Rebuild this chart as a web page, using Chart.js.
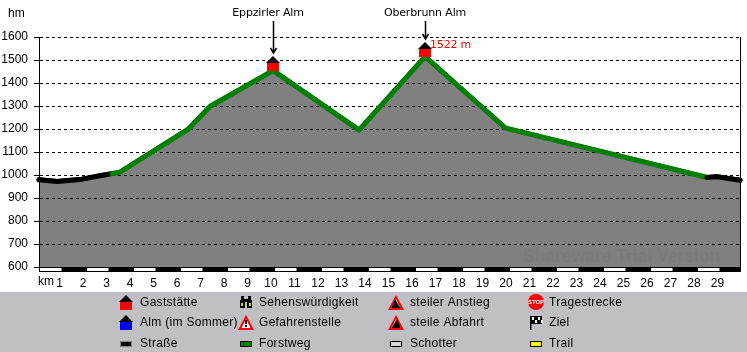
<!DOCTYPE html>
<html>
<head>
<meta charset="utf-8">
<title>Höhenprofil</title>
<script src="https://cdn.jsdelivr.net/npm/chart.js@4/dist/chart.umd.min.js"></script>
<style>
	html, body { margin: 0; padding: 0; background: #fff; overflow: hidden; }
	canvas { display: block; }
</style>
</head>
<body>
<canvas id="chart" width="747" height="352"></canvas>
<script>
const kmPoints = [0, 0.77, 1.74, 2.6, 3.11, 3.45, 6.34, 7.28, 9.96, 13.62, 16.43, 19.85, 28.43, 28.85, 29.83];
const heights = [979, 972, 980, 997, 1006, 1012, 1198, 1298, 1454, 1195, 1515, 1204, 989, 992, 977];
// surface of the segment that starts at each point
const surfaces = ['road', 'road', 'road', 'road', 'forest', 'forest', 'forest', 'forest', 'forest', 'forest', 'forest', 'forest', 'road', 'road'];
const surfaceColors = { road: '#000000', forest: '#008000' };

const huts = [
	{ name: 'Eppzirler Alm', index: 8, shift: -5 },
	{ name: 'Oberbrunn Alm', index: 10, shift: 0 }
];
const peakLabel = '1522 m';

const legendRows = [
	[['Gaststätte', 'hutRed'], ['Sehenswürdigkeit', 'binoculars'], ['steiler Anstieg', 'up'], ['Tragestrecke', 'stop']],
	[['Alm (im Sommer)', 'hutBlue'], ['Gefahrenstelle', 'danger'], ['steile Abfahrt', 'down'], ['Ziel', 'flag']],
	[['Straße', 'road'], ['Forstweg', 'forest'], ['Schotter', 'gravel'], ['Trail', 'trail']]
];

const textFont = '12px "Liberation Sans"';
const noteFont = '11px "DejaVu Sans"';

function hut(ctx, cx, top, color) {
	ctx.fillStyle = '#000';
	ctx.beginPath();
	ctx.moveTo(cx, top);
	ctx.lineTo(cx + 7, top + 7);
	ctx.lineTo(cx - 7, top + 7);
	ctx.closePath();
	ctx.fill();
	ctx.fillStyle = color;
	ctx.fillRect(cx - 6, top + 7, 12, 8);
}

function arrow(ctx, x, y0, y1) {
	ctx.strokeStyle = '#000';
	ctx.lineWidth = 1.5;
	ctx.beginPath();
	ctx.moveTo(x, y0);
	ctx.lineTo(x, y1);
	ctx.moveTo(x - 3, y1 - 5);
	ctx.lineTo(x, y1);
	ctx.lineTo(x + 3, y1 - 5);
	ctx.stroke();
}

function warnTriangle(ctx, cx, top) {
	ctx.fillStyle = '#f00';
	ctx.beginPath();
	ctx.moveTo(cx, top);
	ctx.lineTo(cx + 8, top + 15);
	ctx.lineTo(cx - 8, top + 15);
	ctx.closePath();
	ctx.fill();
	ctx.fillStyle = '#fff';
	ctx.beginPath();
	ctx.moveTo(cx, top + 4);
	ctx.lineTo(cx + 4.5, top + 13);
	ctx.lineTo(cx - 4.5, top + 13);
	ctx.closePath();
	ctx.fill();
}

function swatch(ctx, cx, y, fill, edge) {
	ctx.fillStyle = edge;
	ctx.fillRect(cx - 6, y - 3, 12, 6);
	ctx.fillStyle = fill;
	ctx.fillRect(cx - 5, y - 2, 10, 4);
}

function drawIcon(ctx, kind, cx, y) {
	if (kind === 'hutRed') hut(ctx, cx, y - 7, '#f00');
	if (kind === 'hutBlue') hut(ctx, cx, y - 7, '#00f');
	if (kind === 'road') swatch(ctx, cx, y + 1, '#000', '#808080');
	if (kind === 'forest') swatch(ctx, cx, y + 1, '#008000', '#000');
	if (kind === 'gravel') swatch(ctx, cx, y + 1, '#d8d8d8', '#000');
	if (kind === 'trail') swatch(ctx, cx, y + 1, '#ffff00', '#000');
	if (kind === 'binoculars') {
		ctx.fillStyle = '#000';
		ctx.fillRect(cx - 6, y - 2, 5, 8);
		ctx.fillRect(cx + 1, y - 2, 5, 8);
		ctx.fillRect(cx - 5, y - 6, 3, 5);
		ctx.fillRect(cx + 2, y - 6, 3, 5);
		ctx.fillRect(cx - 2, y - 3, 4, 3);
		ctx.fillStyle = '#e0d000';
		ctx.fillRect(cx - 5, y + 1, 2, 3);
		ctx.fillRect(cx + 3, y + 1, 2, 3);
	}
	if (kind === 'danger') {
		warnTriangle(ctx, cx, y - 7);
		ctx.fillStyle = '#000';
		ctx.fillRect(cx - 1, y - 2, 2, 4);
		ctx.fillRect(cx - 1, y + 3, 2, 2);
	}
	if (kind === 'up' || kind === 'down') {
		warnTriangle(ctx, cx, y - 7);
		ctx.fillStyle = '#000';
		ctx.beginPath();
		if (kind === 'up') {
			ctx.moveTo(cx - 4.5, y + 6);
			ctx.lineTo(cx + 4.5, y + 6);
			ctx.lineTo(cx - 1, y - 3);
		} else {
			ctx.moveTo(cx - 4.5, y + 6);
			ctx.lineTo(cx + 4.5, y + 6);
			ctx.lineTo(cx + 1, y - 3);
		}
		ctx.closePath();
		ctx.fill();
	}
	if (kind === 'stop') {
		ctx.fillStyle = '#f00';
		ctx.beginPath();
		ctx.arc(cx, y, 8, 0, Math.PI * 2);
		ctx.fill();
		ctx.fillStyle = '#fff';
		ctx.font = 'bold 6px "Liberation Sans"';
		ctx.textAlign = 'center';
		ctx.textBaseline = 'middle';
		ctx.fillText('STOP', cx, y);
	}
	if (kind === 'flag') {
		ctx.fillStyle = '#000';
		ctx.fillRect(cx - 6, y - 6, 1.5, 14);
		ctx.fillRect(cx - 5, y - 6, 11, 8);
		ctx.fillStyle = '#fff';
		for (let i = 0; i < 4; i++) {
			ctx.fillRect(cx - 4 + i * 3, y - 5 + (i % 2) * 3, 2, 3);
		}
	}
}

const decorPlugin = {
	id: 'decor',
	beforeDraw(chart) {
		const ctx = chart.ctx;
		ctx.save();
		ctx.fillStyle = '#c0c0c4';
		ctx.fillRect(0, 292, 747, 60);
		ctx.restore();
	},
	afterDraw(chart) {
		const ctx = chart.ctx;
		const area = chart.chartArea;
		const xs = chart.scales.x;
		const ys = chart.scales.y;

		// the grid sits above the fill but under the route line
		for (let i = 1; i < chart.data.datasets.length; i++) {
			chart.getDatasetMeta(i).dataset.draw(ctx, area);
		}

		ctx.save();

		// km strip under the plot
		ctx.fillStyle = '#000';
		ctx.fillRect(area.left, area.bottom, area.right - area.left + 1, 5);
		ctx.fillStyle = '#fff';
		for (let km = 0; km < 29; km += 2) {
			const a = xs.getPixelForValue(km) + 1;
			const b = xs.getPixelForValue(km + 1) - 1;
			ctx.fillRect(a, area.bottom + 1, b - a, 3);
		}
		ctx.fillStyle = '#000';
		ctx.fillRect(area.right, area.top, 1, area.bottom - area.top);

		// watermark
		ctx.fillStyle = '#7c7c7c';
		ctx.font = 'bold 17.5px "Liberation Sans"';
		ctx.textAlign = 'left';
		ctx.textBaseline = 'middle';
		ctx.fillText('Shareware Trial Version', 523, 257);

		ctx.fillStyle = '#000';
		ctx.font = textFont;
		ctx.textAlign = 'left';
		ctx.fillText('hm', 8, 14);
		ctx.fillText('km', 38, 282);

		huts.forEach(function (h) {
			const x = Math.round(xs.getPixelForValue(kmPoints[h.index]));
			const y = ys.getPixelForValue(heights[h.index]);
			const top = Math.round(y) - 15;
			ctx.fillStyle = '#000';
			ctx.font = noteFont;
			ctx.letterSpacing = '-0.15px';
			ctx.textAlign = 'center';
			ctx.textBaseline = 'middle';
			ctx.fillText(h.name, x + h.shift, 13);
			ctx.letterSpacing = '0px';
			arrow(ctx, x + 0.5, 21, top - 3);
			hut(ctx, x, top, '#f00');
		});

		const peak = huts[1].index;
		ctx.fillStyle = '#f00';
		ctx.font = noteFont;
		ctx.letterSpacing = '-0.2px';
		ctx.textAlign = 'left';
		ctx.textBaseline = 'middle';
		ctx.fillText(peakLabel, xs.getPixelForValue(kmPoints[peak]) + 5, 45);
		ctx.letterSpacing = '0px';

		// legend panel
		const iconX = [126, 246, 396, 536];
		const textX = [140, 259, 410, 549];
		const rowY = [302, 322, 343];
		legendRows.forEach(function (row, r) {
			row.forEach(function (item, c) {
				drawIcon(ctx, item[1], iconX[c], rowY[r]);
				ctx.fillStyle = '#000';
				ctx.font = textFont;
				ctx.letterSpacing = '0.3px';
				ctx.textAlign = 'left';
				ctx.textBaseline = 'middle';
				ctx.fillText(item[0], textX[c], rowY[r] + 1);
				ctx.letterSpacing = '0px';
			});
		});

		ctx.restore();
	}
};

function toPoints() {
	return kmPoints.map(function (km, i) {
		return { x: km, y: heights[i] };
	});
}

// one line dataset per run of the same surface
function routeDatasets() {
	const runs = [];
	surfaces.forEach(function (s, i) {
		if (i === 0 || surfaces[i - 1] !== s) {
			runs.push({ surface: s, from: i, to: i + 1 });
		} else {
			runs[runs.length - 1].to = i + 1;
		}
	});
	return runs.map(function (run) {
		return {
			label: run.surface,
			data: toPoints().slice(run.from, run.to + 1),
			fill: false,
			borderColor: surfaceColors[run.surface],
			borderWidth: 5,
			borderCapStyle: 'round',
			borderJoinStyle: 'round',
			pointRadius: 0,
			tension: 0,
			clip: false
		};
	});
}

new Chart(document.querySelector('#chart').getContext('2d'), {
	type: 'line',
	plugins: [decorPlugin],
	data: {
		datasets: [{
			label: 'Fläche',
			data: toPoints(),
			fill: 'start',
			backgroundColor: '#808080',
			borderWidth: 0,
			pointRadius: 0,
			tension: 0
		}].concat(routeDatasets())
	},
	options: {
		responsive: false,
		animation: false,
		events: [],
		layout: { padding: { top: 37, right: 7, left: 0, bottom: 0 } },
		plugins: {
			legend: { display: false },
			tooltip: { enabled: false }
		},
		scales: {
			x: {
				type: 'linear',
				min: 0,
				max: 29.83,
				afterFit: function (scale) { scale.height = 85; },
				grid: { display: false },
				border: { display: false },
				ticks: {
					stepSize: 1,
					includeBounds: false,
					autoSkip: false,
					maxRotation: 0,
					padding: 1,
					labelOffset: -3,
					color: '#000',
					font: { family: 'Liberation Sans', size: 12 },
					callback: function (v) { return v === 0 ? '' : String(v); }
				}
			},
			y: {
				min: 600,
				max: 1600,
				afterFit: function (scale) { scale.width = 39; },
				grid: {
					z: 1,
					color: '#000',
					lineWidth: 1,
					tickLength: 5,
					tickColor: '#000',
					tickBorderDash: []
				},
				border: { display: true, color: '#000', width: 1, dash: [3, 3], z: 1 },
				ticks: {
					stepSize: 100,
					padding: 6,
					color: '#000',
					font: { family: 'Liberation Sans', size: 12 },
					callback: function (v) { return String(v); }
				}
			}
		}
	}
});
</script>
</body>
</html>
